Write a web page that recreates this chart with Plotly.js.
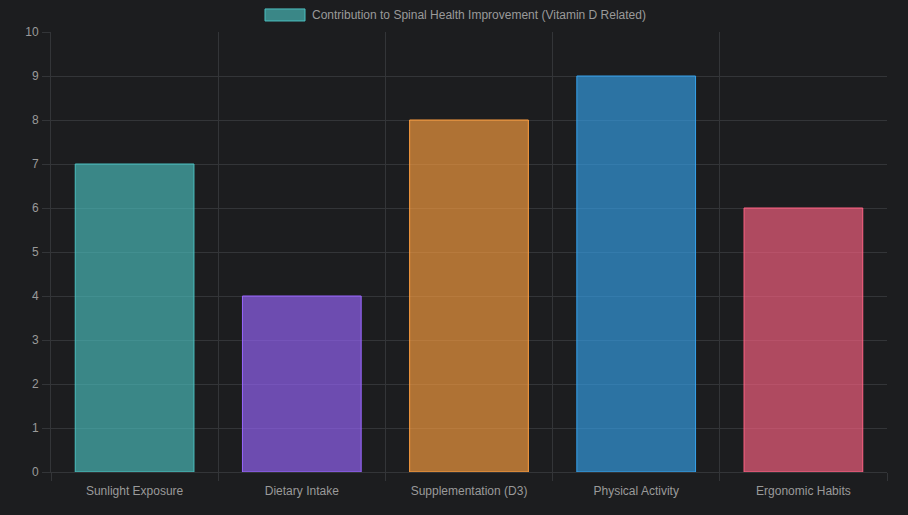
<!DOCTYPE html>
<html>
<head>
<meta charset="utf-8">
<script src="https://cdn.plot.ly/plotly-3.0.1.min.js"></script>
<style>
html,body{margin:0;padding:0;background:#1c1d1f;}
#chart{width:908px;height:515px;}
</style>
</head>
<body>
<div id="chart"></div>
<script>
const categories = ["Sunlight Exposure", "Dietary Intake", "Supplementation (D3)", "Physical Activity", "Ergonomic Habits"];
const values = [7, 4, 8, 9, 6];
const seriesName = "Contribution to Spinal Health Improvement (Vitamin D Related)";
const yTicks = [0, 1, 2, 3, 4, 5, 6, 7, 8, 9, 10];

const fillColors = ["rgba(75,192,192,0.65)", "rgba(153,102,255,0.65)", "rgba(255,159,64,0.65)", "rgba(54,162,235,0.65)", "rgba(255,99,132,0.65)"];
const lineColors = ["#4bc0c0", "#9966ff", "#ff9f40", "#36a2eb", "#ff6384"];

const trace = {
  type: "bar",
  x: categories,
  y: values,
  name: seriesName,
  marker: { color: fillColors, line: { color: lineColors, width: 1 } },
  hoverinfo: "x+y",
  showlegend: false
};

const font = { family: "Liberation Sans, Arial, sans-serif", size: 12, color: "#9a9a9a" };
const gridColor = "#333538";

const layout = {
  width: 908, height: 515,
  paper_bgcolor: "#1c1d1f",
  plot_bgcolor: "#1c1d1f",
  font: font,
  margin: { l: 51, r: 21, t: 32, b: 43 },
  bargap: 0.29,
  showlegend: false,
  xaxis: {
    type: "category",
    tickson: "boundaries",
    showgrid: true, gridcolor: gridColor, gridwidth: 1,
    ticks: "outside", ticklen: 8, tickcolor: gridColor,
    ticklabelstandoff: 8,
    showline: true, linecolor: gridColor,
    tickfont: font,
    fixedrange: true
  },
  yaxis: {
    range: [0, 10],
    tickvals: yTicks,
    ticktext: yTicks.map(String),
    showgrid: true, gridcolor: gridColor, gridwidth: 1,
    zeroline: true, zerolinecolor: gridColor, zerolinewidth: 1,
    ticks: "outside", ticklen: 8, tickcolor: gridColor,
    ticklabelstandoff: 1,
    showline: true, linecolor: gridColor,
    tickfont: font,
    fixedrange: true
  },
  shapes: [{
    type: "rect", xref: "paper", yref: "paper",
    x0: (265 - 51) / 836, x1: (305 - 51) / 836,
    y0: (471 - 21) / 439, y1: (471 - 9) / 439,
    fillcolor: fillColors[0], line: { color: lineColors[0], width: 1 }
  }],
  annotations: [{
    xref: "paper", yref: "paper",
    x: (310 - 51) / 836, y: (471 - 15.5) / 439,
    xanchor: "left", yanchor: "middle",
    text: seriesName, showarrow: false,
    font: font
  }]
};

Plotly.newPlot("chart", [trace], layout, { displayModeBar: false, staticPlot: true });
</script>
</body>
</html>
